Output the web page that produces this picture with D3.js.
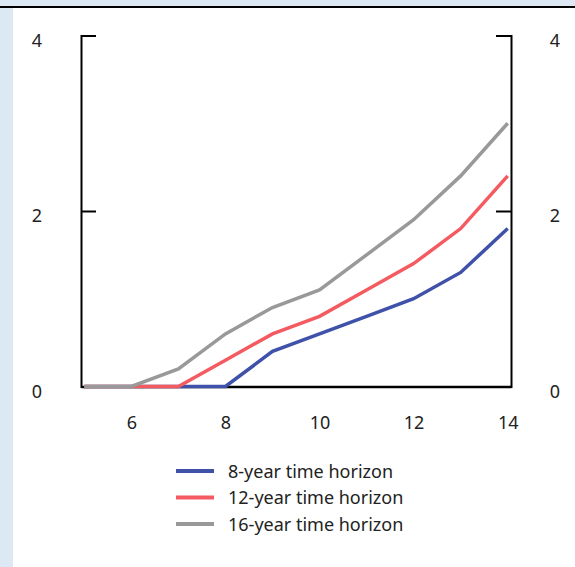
<!DOCTYPE html>
<html>
<head>
<meta charset="utf-8">
<script src="https://cdn.jsdelivr.net/npm/d3@7"></script>
<style>
  body { margin: 0; background: #fff; }
  svg { display: block; }
</style>
</head>
<body>
<script>
var w = 575;
var h = 567;

// data
var years = [5, 6, 7, 8, 9, 10, 11, 12, 13, 14];
var horizon8 = [0, 0, 0, 0, 0.4, 0.6, 0.8, 1.0, 1.3, 1.8];
var horizon12 = [0, 0, 0, 0.3, 0.6, 0.8, 1.1, 1.4, 1.8, 2.4];
var horizon16 = [0, 0, 0.2, 0.6, 0.9, 1.1, 1.5, 1.9, 2.4, 3.0];
var seriesNames = ["8-year time horizon", "12-year time horizon", "16-year time horizon"];
var seriesColors = ["#3f51a8", "#f45b61", "#999999"];
var xTicks = [6, 8, 10, 12, 14];
var yTicks = [0, 2, 4];

var allSeries = [horizon8, horizon12, horizon16];

var svg = d3.select("body")
    .append("svg")
    .attr("width", w)
    .attr("height", h);

// page frame: light blue strips and dark top rule
svg.append("rect").attr("x", 0).attr("y", 0).attr("width", w).attr("height", 6).attr("fill", "#dde8f5");
svg.append("rect").attr("x", 0).attr("y", 8).attr("width", 13).attr("height", h - 8).attr("fill", "#dde8f5");
svg.append("rect").attr("x", 0).attr("y", 6).attr("width", w).attr("height", 2).attr("fill", "#000");

var xScale = d3.scaleLinear()
    .domain([4.93, 14.07])
    .range([81, 511]);

var yScale = d3.scaleLinear()
    .domain([0, 4])
    .range([386.5, 35.5]);

var fontFamily = "'Noto Sans', 'Open Sans', sans-serif";
var fontSize = "18px";

// left and right axes with inward ticks
var yLeft = d3.axisRight(yScale).tickValues(yTicks).tickSize(15).tickFormat("");
var yRight = d3.axisLeft(yScale).tickValues(yTicks).tickSize(15).tickFormat("");

svg.append("g")
    .attr("class", "y-left")
    .attr("transform", "translate(" + xScale.range()[0] + ",0)")
    .call(yLeft);

svg.append("g")
    .attr("class", "y-right")
    .attr("transform", "translate(" + xScale.range()[1] + ",0)")
    .call(yRight);

svg.selectAll(".y-left path, .y-right path, .y-left line, .y-right line")
    .attr("stroke", "#000")
    .attr("stroke-width", 2);

// bottom axis line
var xAxis = d3.axisBottom(xScale).tickValues(xTicks).tickSize(0).tickPadding(30);
var xg = svg.append("g")
    .attr("class", "x-axis")
    .attr("transform", "translate(0," + yScale(0) + ")")
    .call(xAxis);
xg.select("path").attr("stroke", "#000").attr("stroke-width", 2.5);
xg.selectAll("text")
    .attr("font-family", fontFamily)
    .attr("font-size", fontSize)
    .attr("fill", "#222");

// y labels, outside the frame on both sides
svg.selectAll("text.ylab-left")
    .data(yTicks)
    .join("text")
    .attr("class", "ylab-left")
    .attr("x", 37)
    .attr("y", d => yScale(d) + 11)
    .attr("text-anchor", "middle")
    .attr("font-family", fontFamily)
    .attr("font-size", fontSize)
    .attr("fill", "#222")
    .text(d => d);

svg.selectAll("text.ylab-right")
    .data(yTicks)
    .join("text")
    .attr("class", "ylab-right")
    .attr("x", 555)
    .attr("y", d => yScale(d) + 11)
    .attr("text-anchor", "middle")
    .attr("font-family", fontFamily)
    .attr("font-size", fontSize)
    .attr("fill", "#222")
    .text(d => d);

// series lines
var line = d3.line()
    .x((d, i) => xScale(years[i]))
    .y(d => yScale(d));

svg.selectAll("path.series")
    .data(allSeries)
    .join("path")
    .attr("class", "series")
    .attr("d", line)
    .attr("fill", "none")
    .attr("stroke", (d, i) => seriesColors[i])
    .attr("stroke-width", 3.5);

// legend
var legend = svg.append("g").attr("class", "legend");
var rows = legend.selectAll("g")
    .data(seriesNames)
    .join("g")
    .attr("transform", (d, i) => "translate(176," + (471 + i * 26.5) + ")");

rows.append("line")
    .attr("x1", 0)
    .attr("x2", 38)
    .attr("y1", 0)
    .attr("y2", 0)
    .attr("stroke", (d, i) => seriesColors[i])
    .attr("stroke-width", 4);

rows.append("text")
    .attr("x", 52)
    .attr("y", 6.5)
    .attr("font-family", fontFamily)
    .attr("font-size", fontSize)
    .attr("fill", "#222")
    .text(d => d);
</script>
</body>
</html>
